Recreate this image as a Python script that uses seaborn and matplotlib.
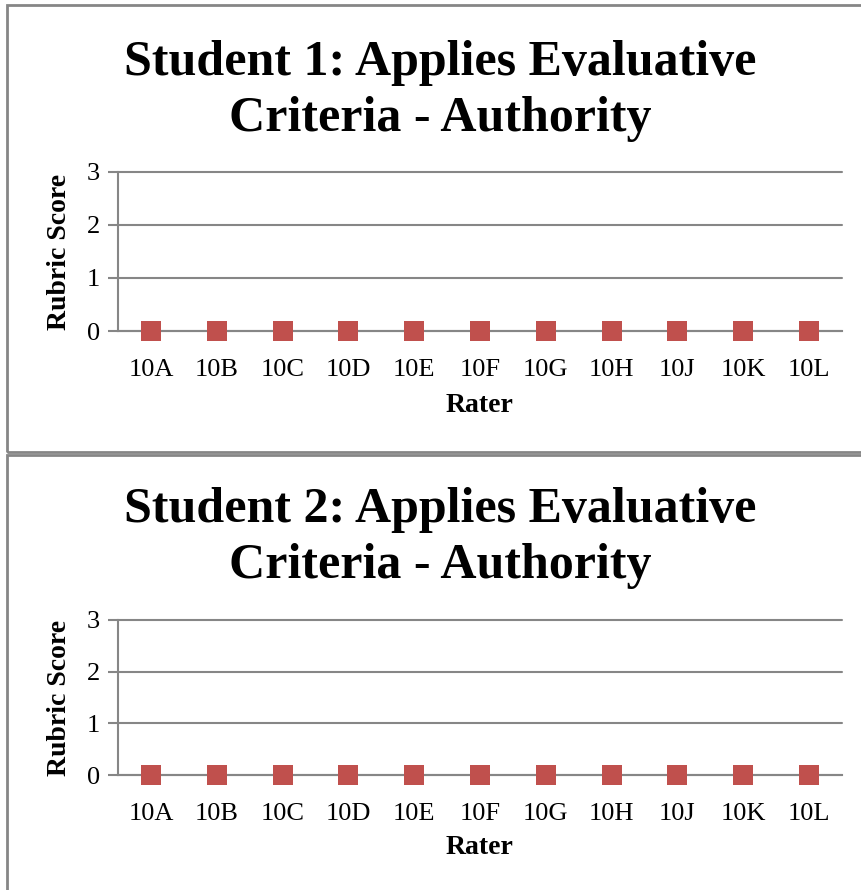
import pandas as pd
import matplotlib.pyplot as plt
import seaborn as sns
from matplotlib.patches import Rectangle
from matplotlib.ticker import FixedLocator

sns.set_style("white")
plt.rcParams['font.family'] = ['Liberation Serif', 'DejaVu Serif']
plt.rcParams['text.color'] = 'black'
plt.rcParams['xtick.labelcolor'] = 'black'
plt.rcParams['ytick.labelcolor'] = 'black'

# data
raters = ["10A", "10B", "10C", "10D", "10E", "10F", "10G", "10H", "10J", "10K", "10L"]
student1_scores = [0, 0, 0, 0, 0, 0, 0, 0, 0, 0, 0]
student2_scores = [0, 0, 0, 0, 0, 0, 0, 0, 0, 0, 0]
titles = ["Student 1: Applies Evaluative\nCriteria - Authority",
          "Student 2: Applies Evaluative\nCriteria - Authority"]

W, H = 861, 890
fig = plt.figure(figsize=(W / 100, H / 100), dpi=100)

grey = "#868686"
red = "#C0504D"

# panel frames (px): x0, y0, x1, y1
frames = [(7, 5, 870, 452), (7, 455, 870, 900)]
# axes boxes (px): left, top, right, bottom
boxes = [(118, 172, 842, 331), (118, 620, 842, 775)]
title_y = [91, 538]
xlabel_y = [405, 848]

for i, scores in enumerate([student1_scores, student2_scores]):
    fx0, fy0, fx1, fy1 = frames[i]
    fig.patches.append(Rectangle((fx0 / W, 1 - fy1 / H), (fx1 - fx0) / W, (fy1 - fy0) / H,
                                 transform=fig.transFigure, fill=False,
                                 edgecolor=grey, linewidth=2))
    l, t, r, b = boxes[i]
    ax = fig.add_axes([l / W, 1 - b / H, (r - l) / W, (b - t) / H])
    df = pd.DataFrame({"Rater": raters, "Score": scores})
    sns.scatterplot(data=df, x="Rater", y="Score", marker="s", s=190,
                    color=red, edgecolor=red, linewidth=0, ax=ax, zorder=3, clip_on=False)
    ax.set_xlim(-0.5, len(raters) - 0.5)
    ax.set_ylim(0, 3)
    ax.set_yticks([0, 1, 2, 3])
    ax.set_xticks(range(len(raters)))
    ax.set_xticklabels(raters)
    ax.xaxis.set_minor_locator(FixedLocator([k - 0.5 for k in range(len(raters) + 1)]))
    ax.tick_params(axis="x", which="major", length=0, pad=20, labelsize=19)
    ax.tick_params(axis="x", which="minor", length=7, width=1.5, color=grey, direction="out")
    ax.tick_params(axis="y", length=7, width=1.5, color=grey, direction="out",
                   labelsize=19, pad=6, left=True)
    ax.yaxis.grid(True, color=grey, linewidth=1.5)
    for line in ax.get_ygridlines():
        line.set_clip_on(False)
    ax.set_axisbelow(True)
    for side in ["top", "right"]:
        ax.spines[side].set_visible(False)
    for side in ["left", "bottom"]:
        ax.spines[side].set_color(grey)
        ax.spines[side].set_linewidth(1.5)
    ax.set_xlabel("")
    ax.set_ylabel("")

    fig.text(440 / W, 1 - title_y[i] / H, titles[i], ha="center", va="center",
             fontsize=36, fontweight="bold", linespacing=1.3)
    fig.text(60 / W, 1 - (t + b) / 2 / H, "Rubric Score", rotation=90,
             ha="center", va="center", fontsize=20, fontweight="bold")
    fig.text(480 / W, 1 - xlabel_y[i] / H, "Rater", ha="center", va="center",
             fontsize=20, fontweight="bold")

plt.savefig("out.png", dpi=100)
